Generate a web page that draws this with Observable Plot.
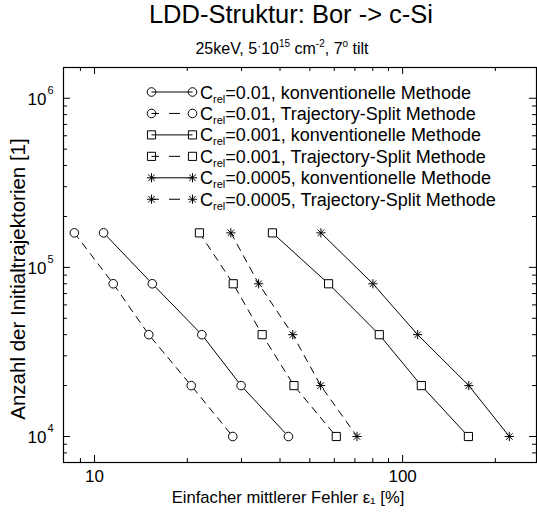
<!DOCTYPE html>
<html><head><meta charset="utf-8">
<script src="https://cdn.jsdelivr.net/npm/d3@7"></script>
<script src="https://cdn.jsdelivr.net/npm/@observablehq/plot@0.6"></script>
<style>
body{margin:0;background:#fff;}
#wrap{position:relative;width:537px;height:512px;font-family:"Liberation Sans",Arial,Helvetica,sans-serif;}
#wrap svg{position:absolute;left:0;top:0;}
</style></head><body><div id="wrap"></div>
<script>
// ---- data ----
const yVals = [160000, 80000, 40000, 20000, 10000];
const xKonv001  = [10.7, 15.4, 22.3, 29.9, 42.6];
const xSplit001 = [8.6, 11.5, 15.0, 20.6, 28.1];
const xKonv0001  = [37.8, 57.5, 84.0, 115, 163.5];
const xSplit0001 = [21.9, 28.2, 35.0, 44.4, 60.9];
const xKonv00005  = [54.3, 80.1, 111.9, 164, 222];
const xSplit00005 = [27.7, 34.1, 44.0, 54.2, 71.1];
const cRel = ["0.01", "0.01", "0.001", "0.001", "0.0005", "0.0005"];
const methods = ["konventionelle Methode", "Trajectory-Split Methode"];
const xMajor = [10, 100];
const xMajorLabels = ["10", "100"];
const xMinor = [9, 20, 30, 40, 50, 60, 70, 80, 90, 200];
const yMajor = [1e4, 1e5, 1e6];
const yExp = ["4", "5", "6"];
const yMinor = [8000, 9000, 20000, 30000, 40000, 50000, 60000, 70000, 80000, 90000,
  200000, 300000, 400000, 500000, 600000, 700000, 800000, 900000];

const seriesX = [xKonv001, xSplit001, xKonv0001, xSplit0001, xKonv00005, xSplit00005];
const shapes = ["circle", "circle", "square", "square", "star", "star"];
const dashed = [false, true, false, true, false, true];

const rows = [];
seriesX.forEach((xs, i) => xs.forEach((x, j) => rows.push({s: i, x, y: yVals[j], shape: shapes[i], dashed: dashed[i]})));

const star8 = {draw(ctx, size) {
  const r = Math.sqrt(size / Math.PI), d = r * Math.SQRT1_2;
  ctx.moveTo(-r, 0); ctx.lineTo(r, 0);
  ctx.moveTo(0, -r); ctx.lineTo(0, r);
  ctx.moveTo(-d, -d); ctx.lineTo(d, d);
  ctx.moveTo(-d, d); ctx.lineTo(d, -d);
}};
const symFor = {circle: d3.symbolCircle, square: d3.symbolSquare, star: star8};
const rFor = {circle: 4.3, square: 4.6, star: 4.6};

const W = 537, H = 512, mT = 67, mB = 50, mL = 63, mR = 1;
const fh = H - mT - mB;
const font = '"Liberation Sans", Arial, Helvetica, sans-serif';
const DASH = "7,6";

const chart = Plot.plot({
  width: W, height: H,
  marginTop: mT, marginBottom: mB, marginLeft: mL, marginRight: mR,
  style: {fontFamily: font, background: "white", color: "black"},
  x: {type: "log", domain: [7.93, 272], axis: null},
  y: {type: "log", domain: [7020, 1.52e6], axis: null},
  marks: [
    // ticks
    Plot.ruleX(xMinor, {x: d => d, insetTop: fh - 4, stroke: "black"}),
    Plot.ruleX(xMinor, {x: d => d, insetBottom: fh - 4, stroke: "black"}),
    Plot.ruleX(xMajor, {x: d => d, insetTop: fh - 7, stroke: "black"}),
    Plot.ruleX(xMajor, {x: d => d, insetBottom: fh - 7, stroke: "black"}),
    Plot.ruleY(yMinor, {y: d => d, insetRight: (W - mL - mR) - 4, stroke: "black"}),
    Plot.ruleY(yMinor, {y: d => d, insetLeft: (W - mL - mR) - 4, stroke: "black"}),
    Plot.ruleY(yMajor, {y: d => d, insetRight: (W - mL - mR) - 7, stroke: "black"}),
    Plot.ruleY(yMajor, {y: d => d, insetLeft: (W - mL - mR) - 7, stroke: "black"}),
    Plot.frame({stroke: "black", strokeWidth: 1.2}),
    // tick labels
    Plot.text(xMajor, {x: d => d, frameAnchor: "bottom", dy: 19, text: (d, i) => xMajorLabels[i], fontSize: 17, fill: "black"}),
    Plot.text(yMajor, {y: d => d, frameAnchor: "left", dx: -17, dy: 1, text: () => "10", textAnchor: "end", fontSize: 17, fill: "black"}),
    Plot.text(yMajor, {y: d => d, frameAnchor: "left", dx: -16, dy: -8, text: (d, i) => yExp[i], textAnchor: "start", fontSize: 11, fill: "black"}),
    // axis labels
    Plot.text(["Einfacher mittlerer Fehler ε₁ [%]"], {frameAnchor: "bottom", dx: -12, dy: 40, fontSize: 16.6, fill: "black"}),
    Plot.text(["Anzahl der Initialtrajektorien [1]"], {frameAnchor: "left", dx: -39, dy: 14, rotate: -90, textAnchor: "middle", lineAnchor: "bottom", fontSize: 20.5, fill: "black"}),
    // series lines
    Plot.line(rows.filter(d => !d.dashed), {x: "x", y: "y", z: "s", stroke: "black", strokeWidth: 1}),
    Plot.line(rows.filter(d => d.dashed), {x: "x", y: "y", z: "s", stroke: "black", strokeWidth: 1, strokeDasharray: DASH}),
    // markers
    ...["circle", "square", "star"].map(sh =>
      Plot.dot(rows.filter(d => d.shape === sh), {x: "x", y: "y", symbol: symFor[sh], r: rFor[sh], fill: "white", stroke: "black", strokeWidth: 1}))
  ]
});
const wrap = document.getElementById("wrap");
wrap.appendChild(chart);

// overlay: title, subtitle, legend
const ov = d3.select(wrap).append("svg").attr("width", W).attr("height", H)
  .style("pointer-events", "none").attr("font-family", font);

ov.append("text").attr("x", 291).attr("y", 23).attr("text-anchor", "middle").attr("font-size", 25.5).text("LDD-Struktur: Bor -> c-Si");
const st = ov.append("text").attr("x", 282).attr("y", 54).attr("text-anchor", "middle").attr("font-size", 16);
st.append("tspan").text("25keV, 5");
st.append("tspan").attr("dy", -4).attr("font-size", 12).text("·");
st.append("tspan").attr("dy", 4).text("10");
st.append("tspan").attr("dy", -7).attr("font-size", 10).text("15");
st.append("tspan").attr("dy", 7).text(" cm");
st.append("tspan").attr("dy", -7).attr("font-size", 10).text("-2");
st.append("tspan").attr("dy", 7).text(", 7");
st.append("tspan").attr("dy", -7).attr("font-size", 10).text("o");
st.append("tspan").attr("dy", 7).text(" tilt");

const lx1 = 151.5, lx2 = 192.5, ly0 = 92, ldy = 21.45;
cRel.forEach((c, i) => {
  const y = ly0 + i * ldy;
  const g = ov.append("g");
  g.append("line").attr("x1", lx1).attr("x2", lx2).attr("y1", y).attr("y2", y)
    .attr("stroke", "black").attr("stroke-width", 1).attr("stroke-dasharray", dashed[i] ? "7.5,10,11,30" : null);
  [lx1, lx2].forEach(x => {
    g.append("path").attr("transform", `translate(${x},${y})`)
      .attr("d", d3.symbol(symFor[shapes[i]], Math.PI * rFor[shapes[i]] ** 2)())
      .attr("fill", "none").attr("stroke", "black").attr("stroke-width", 1);
  });
  const tx = g.append("text").attr("x", 200).attr("y", y + 6.5).attr("font-size", 18);
  tx.append("tspan").text("C");
  tx.append("tspan").attr("dy", 4).attr("font-size", 11).text("rel");
  tx.append("tspan").attr("dy", -4).text("=" + c + ", " + methods[i % 2]);
});
</script></body></html>
